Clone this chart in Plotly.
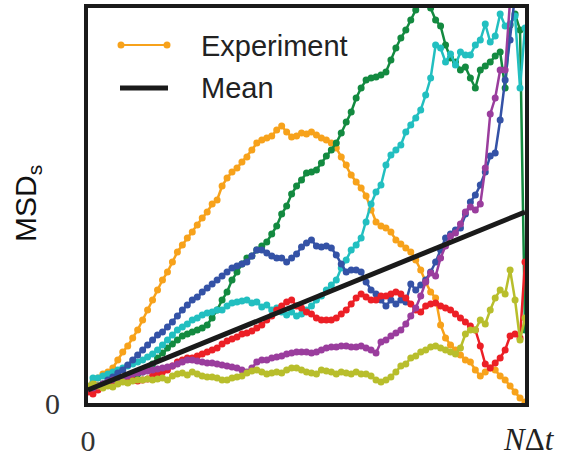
import plotly.graph_objects as go

# x index i corresponds to step N (uniform spacing)
n_steps = list(range(89))

orange = [388,382,378,374,372,368,360,352,346,338,330,320,310,300,290,280,272,262,252,245,
          238,232,225,218,212,204,200,186,178,172,168,162,157,150,143,140,138,136,130,126,
          132,137,136,133,134,132,135,138,140,143,148,157,165,175,182,188,196,210,222,226,
          228,232,240,244,248,252,260,270,282,292,298,325,338,345,350,355,360,362,370,376,
          372,368,370,376,380,386,392,398,402]
green = [390,388,386,384,382,380,378,378,376,376,374,372,368,364,358,353,348,344,340,336,
         334,332,330,328,325,318,310,300,292,280,272,264,258,256,250,246,242,234,226,214,
         206,194,186,180,173,172,170,163,156,150,143,133,122,112,98,88,80,78,77,75,
         72,60,48,38,30,20,10,4,2,8,20,26,45,58,62,70,67,78,88,70,
         66,62,56,52,88,25,14,30,330]
cyan = [388,378,378,376,374,372,370,368,366,364,362,360,357,354,350,345,340,335,330,327,
        324,320,318,315,313,312,310,310,306,303,302,301,300,303,302,307,305,310,308,312,
        315,312,316,314,310,306,300,296,290,285,280,268,260,250,245,238,222,204,192,185,
        165,155,150,145,132,125,118,110,95,78,45,48,62,54,65,52,55,55,45,40,
        24,42,36,14,26,24,16,88,28]
blue = [390,388,386,384,380,377,373,370,365,360,355,350,345,340,335,332,327,322,316,310,
        305,300,297,292,288,284,280,276,272,268,266,264,262,256,250,250,253,256,258,258,
        262,258,254,247,243,240,246,247,246,248,255,264,272,270,270,272,282,290,294,300,
        306,300,304,300,302,284,290,285,280,272,262,250,238,234,230,228,214,202,195,185,
        172,156,153,120,80,40,-5,-20,-30]
red = [392,394,390,386,384,383,382,381,382,380,381,380,379,376,374,372,370,366,362,360,
       358,358,356,354,352,350,348,344,341,339,337,334,333,331,328,325,320,316,310,306,
       302,300,306,308,312,314,318,320,320,320,318,314,310,304,298,294,297,300,300,296,
       296,294,292,294,298,304,310,312,306,304,303,306,308,310,314,318,322,326,330,346,
       364,368,363,358,350,336,334,338,262]
purple = [388,388,386,384,382,380,380,378,376,374,373,372,371,370,369,368,367,366,364,362,
          360,360,361,362,363,363,364,365,366,367,368,370,372,368,362,360,360,358,357,356,
          354,353,352,352,352,353,352,350,348,347,347,346,346,347,347,346,348,350,353,342,
          340,336,333,330,324,316,308,296,282,273,276,258,246,236,233,224,212,207,210,204,
          168,114,98,70,70,0,-20,-30,-40]
olive = [386,384,386,388,386,387,384,382,383,381,380,380,379,380,379,378,380,376,374,373,
         375,372,374,376,377,377,378,380,380,378,377,376,373,371,370,372,374,373,372,373,
         370,368,368,370,372,373,374,370,371,372,374,372,373,374,372,374,374,376,380,382,
         380,377,372,366,364,358,356,352,350,347,346,348,350,352,354,348,334,330,330,320,
         324,310,298,290,294,270,300,340,318]
mean_x = [0, 88]
mean_y = [15, 193]

legend_labels = ["Experiment", "Mean"]

REF = 405  # values above were read as image rows; convert to heights
def h(v):
    return [REF - p for p in v]

ORANGE = "#F7A21B"
series = [
    (orange, ORANGE),
    (green, "#138A40"),
    (cyan, "#22BFC0"),
    (blue, "#3452A6"),
    (red, "#EC1F26"),
    (purple, "#9A3D9D"),
    (olive, "#B8BE2C"),
]

fig = go.Figure()
for vals, col in series:
    fig.add_trace(go.Scatter(
        x=n_steps, y=h(vals), mode="lines+markers",
        line=dict(color=col, width=2.5), marker=dict(color=col, size=7),
        showlegend=False, hoverinfo="skip",
    ))
fig.add_trace(go.Scatter(
    x=mean_x, y=mean_y, mode="lines", name="Mean",
    line=dict(color="#1a1a1a", width=5), showlegend=False,
))

# legend drawn in paper coordinates (plot area 437 x 395 px)
W, H = 437.0, 395.0
def px(xp):
    return (xp - 88) / W
def py(yp):
    return (403 - yp) / H

shapes = [
    dict(type="line", xref="paper", yref="paper", x0=px(120), x1=px(168),
         y0=py(45), y1=py(45), line=dict(color=ORANGE, width=2)),
    dict(type="line", xref="paper", yref="paper", x0=px(120), x1=px(168),
         y0=py(88), y1=py(88), line=dict(color="#1a1a1a", width=5)),
]
for xe in (121, 167):
    shapes.append(dict(type="circle", xref="paper", yref="paper",
                       xsizemode="pixel", ysizemode="pixel",
                       xanchor=px(xe), yanchor=py(45),
                       x0=-3.5, x1=3.5, y0=-3.5, y1=3.5,
                       fillcolor=ORANGE, line=dict(width=0)))

annotations = [
    dict(text=legend_labels[0], xref="paper", yref="paper", x=px(199), y=py(46),
         xanchor="left", yanchor="middle", showarrow=False,
         font=dict(family="Liberation Sans, Arial", size=29, color="#222")),
    dict(text=legend_labels[1], xref="paper", yref="paper", x=px(199), y=py(88),
         xanchor="left", yanchor="middle", showarrow=False,
         font=dict(family="Liberation Sans, Arial", size=29, color="#222")),
    dict(text="MSD<sub>s</sub>", xref="paper", yref="paper",
         x=px(27), y=py(204), xanchor="center", yanchor="middle",
         showarrow=False, textangle=-90,
         font=dict(family="Liberation Sans, Arial", size=30, color="#111")),
    dict(text="<i>N</i>Δ<i>t</i>", xref="paper", yref="paper",
         x=px(529), y=py(439), xanchor="center", yanchor="middle", showarrow=False,
         font=dict(family="Liberation Serif", size=31, color="#222")),
]

fig.update_layout(
    width=566, height=456,
    margin=dict(l=88, r=41, t=8, b=53, autoexpand=False),
    paper_bgcolor="white", plot_bgcolor="white",
    showlegend=False,
    xaxis=dict(range=[0, 88], showgrid=False, zeroline=False, showline=True,
               mirror=True, linewidth=4, linecolor="#1a1a1a", automargin=False,
               tickvals=[0], ticktext=["0"], ticks="",
               ticklabelstandoff=8,
               tickfont=dict(family="Liberation Serif", size=30, color="#333")),
    yaxis=dict(range=[2, 397], showgrid=False, zeroline=False, showline=True,
               mirror=True, linewidth=4, linecolor="#1a1a1a", automargin=False,
               tickvals=[2], ticktext=["0"], ticks="",
               ticklabelstandoff=18,
               tickfont=dict(family="Liberation Serif", size=30, color="#333")),
    shapes=shapes,
    annotations=annotations,
)

fig.write_html("out.html", config={"displayModeBar": False},
               post_script="document.body.style.margin='0px';")
